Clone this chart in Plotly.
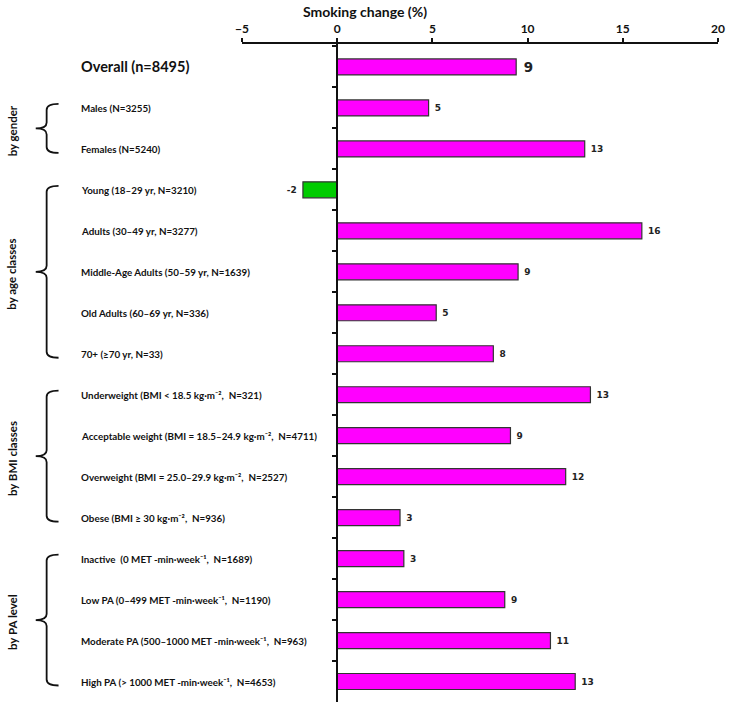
import plotly.graph_objects as go

# ---- data ----
categories = [
    "Overall (n=8495)",
    "Males (N=3255)",
    "Females (N=5240)",
    "Young (18–29 yr, N=3210)",
    "Adults (30–49 yr, N=3277)",
    "Middle-Age Adults (50–59 yr, N=1639)",
    "Old Adults (60–69 yr, N=336)",
    "70+ (≥70 yr, N=33)",
    "Underweight (BMI < 18.5 kg·m⁻²,  N=321)",
    "Acceptable weight (BMI = 18.5–24.9 kg·m⁻²,  N=4711)",
    "Overweight (BMI = 25.0–29.9 kg·m⁻²,  N=2527)",
    "Obese (BMI ≥ 30 kg·m⁻²,  N=936)",
    "Inactive  (0 MET -min·week⁻¹,  N=1689)",
    "Low PA (0–499 MET -min·week⁻¹,  N=1190)",
    "Moderate PA (500–1000 MET -min·week⁻¹,  N=963)",
    "High PA (> 1000 MET -min·week⁻¹,  N=4653)",
]
values = [9.4, 4.8, 13.0, -1.8, 16.0, 9.5, 5.2, 8.2, 13.3, 9.1, 12.0, 3.3, 3.5, 8.8, 11.2, 12.5]
value_labels = ["9", "5", "13", "-2", "16", "9", "5", "8", "13", "9", "12", "3", "3", "9", "11", "13"]
groups = [
    ("by gender", 1, 2),
    ("by age classes", 3, 7),
    ("by BMI classes", 8, 11),
    ("by PA level", 12, 15),
]
x_ticks = [-5, 0, 5, 10, 15, 20]
x_title = "Smoking change (%)"

# ---- layout geometry ----
W, H = 730, 707
ML, MR, MT, MB = 242, 8, 44, 5
PW, PH = W - ML - MR, H - MT - MB
X_RANGE = [-5, 20]
Y_RANGE = [15.5, -0.56]

def px_x(px):
    return (px - ML) / PW

def px_y(py):
    return (H - MB - py) / PH

def idx_y(i):
    return (Y_RANGE[0] - i) / (Y_RANGE[0] - Y_RANGE[1])

LABEL_FONT = "Lato"
colors = ["#FF00FF" if v >= 0 else "#00CC00" for v in values]
text_sizes = [16] + [9] * (len(values) - 1)
bar_text = [("\u00a0" + t) if v >= 0 else (t + "\u00a0") for t, v in zip(value_labels, values)]

fig = go.Figure()
fig.add_trace(go.Bar(
    y=categories, x=values, orientation="h",
    marker=dict(color=colors, line=dict(color="#333333", width=1.2)),
    text=bar_text, textposition="outside",
    textfont=dict(family="DejaVu Sans", size=text_sizes, color="#222222", weight=700),
    cliponaxis=False, width=0.39,
    hoverinfo="skip",
))

annotations = []
for i, lab in enumerate(categories):
    safe = lab.replace("<", "&lt;").replace(">", "&gt;")
    annotations.append(dict(
        text=safe, x=px_x(78), xref="paper", xanchor="left",
        y=lab, yref="y", yanchor="middle", showarrow=False,
        font=dict(family=LABEL_FONT, size=14.5 if i == 0 else 9.8, color="#111111", weight=700),
    ))

shapes = []
for name, i0, i1 in groups:
    top = idx_y(i0) + 4 / PH
    bot = idx_y(i1) - 4 / PH
    mid = (top + bot) / 2
    xr, xv, xt = px_x(57), px_x(45), px_x(34)
    ry = 6 / PH
    path = (f"M {xr},{top} Q {xv},{top} {xv},{top - ry} "
            f"L {xv},{mid + ry} Q {xv},{mid} {xt},{mid} "
            f"Q {xv},{mid} {xv},{mid - ry} "
            f"L {xv},{bot + ry} Q {xv},{bot} {xr},{bot}")
    shapes.append(dict(type="path", path=path, xref="paper", yref="paper",
                       line=dict(color="#111111", width=1.8)))
    annotations.append(dict(
        text=name, x=px_x(10), xref="paper", xanchor="center",
        y=mid - 2 / PH, yref="paper", yanchor="middle", textangle=-90, showarrow=False,
        font=dict(family=LABEL_FONT, size=11.5, color="#111111", weight=700),
    ))

annotations.append(dict(
    text=x_title, x=px_x(366), xref="paper", xanchor="center",
    y=px_y(12), yref="paper", yanchor="middle", showarrow=False,
    font=dict(family=LABEL_FONT, size=14, color="#111111", weight=700),
))

fig.update_layout(
    width=W, height=H,
    margin=dict(l=ML, r=MR, t=MT, b=MB),
    paper_bgcolor="white", plot_bgcolor="white",
    showlegend=False,
    annotations=annotations, shapes=shapes,
    xaxis=dict(
        range=X_RANGE, side="top", tickvals=x_ticks,
        ticks="outside", ticklen=4, tickwidth=2, tickcolor="#111111",
        showline=True, linewidth=2, linecolor="#111111",
        showgrid=False, zeroline=False,
        tickfont=dict(family=LABEL_FONT, size=12, color="#111111", weight=700),
    ),
    yaxis=dict(
        type="category", categoryarray=categories, categoryorder="array",
        range=Y_RANGE, showticklabels=False,
        ticks="outside", tickson="boundaries", ticklen=4, tickwidth=2, tickcolor="#111111",
        showline=True, linewidth=2, linecolor="#111111",
        showgrid=False, zeroline=False,
        anchor="free", position=(0 - X_RANGE[0]) / (X_RANGE[1] - X_RANGE[0]),
    ),
)

fig.write_html("out.html", config={"displayModeBar": False},
               post_script="document.body.style.margin='0';")
